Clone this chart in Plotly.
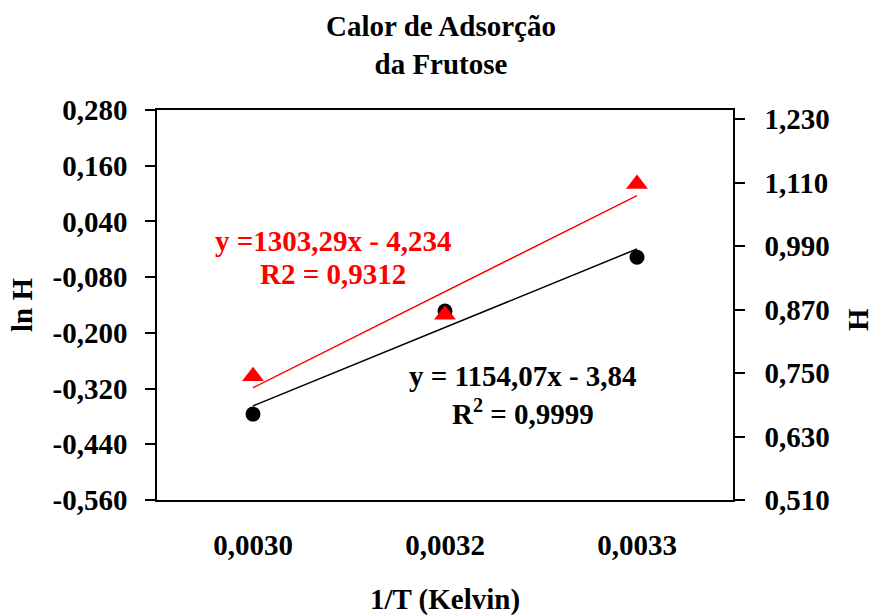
import numpy as np
import plotly.graph_objects as go

# ---- data ----
x_labels = ["0,0030", "0,0032", "0,0033"]
ln_h = [-0.375, -0.153, -0.037]          # black circles, left axis (ln H)
h_vals = [0.744, 0.860, 1.107]           # red triangles, right axis (H)
left_ticks = [-0.56, -0.44, -0.32, -0.20, -0.08, 0.04, 0.16, 0.28]
right_ticks = [0.51, 0.63, 0.75, 0.87, 0.99, 1.11, 1.23]
title_text = "Calor de Adsorção<br>da Frutose"
eq_black = ["y = 1154,07x - 3,84", "R<sup>2</sup> = 0,9999"]
eq_red = ["y =1303,29x - 4,234", "R2 = 0,9312"]


def fmt(v):
    return f"{v:.3f}".replace(".", ",")


left_text = [fmt(v) for v in left_ticks]
right_text = [fmt(v) for v in right_ticks]

idx = np.arange(len(x_labels))
bounds = np.arange(len(x_labels) + 1) - 0.5

# linear trendlines over category index (as the spreadsheet does)
kb = np.polyfit(idx, ln_h, 1)
kr = np.polyfit(idx, h_vals, 1)
tx = np.array([idx[0], idx[-1]])

FONT = "Liberation Serif"
FS = 29

fig = go.Figure()
fig.add_trace(go.Scatter(x=tx, y=np.polyval(kb, tx), mode="lines",
                         line=dict(color="black", width=1.5), yaxis="y",
                         showlegend=False, hoverinfo="skip"))
fig.add_trace(go.Scatter(x=idx, y=ln_h, mode="markers",
                         marker=dict(symbol="circle", size=15, color="black"),
                         yaxis="y", showlegend=False))
fig.add_trace(go.Scatter(x=tx, y=np.polyval(kr, tx), mode="lines",
                         line=dict(color="#ff0000", width=1.5), yaxis="y2",
                         showlegend=False, hoverinfo="skip"))
fig.add_trace(go.Scatter(x=idx, y=h_vals, mode="markers",
                         marker=dict(symbol="triangle-up", size=19, color="#ff0000"),
                         yaxis="y2", showlegend=False))

xr = [bounds[0], bounds[-1]]
yl = [left_ticks[0], left_ticks[-1]]
yr = [right_ticks[0], right_ticks[-1] + 0.017]

tfont = dict(family=FONT, size=FS, color="black", weight="bold")
axis_common = dict(showgrid=False, zeroline=False, color="black",
                   automargin=False, tickfont=tfont)
tick_only = dict(showticklabels=False, showline=False, showgrid=False,
                 zeroline=False, tickwidth=1.5, tickcolor="black", ticklen=10,
                 automargin=False, tickmode="array")

fig.update_layout(
    width=873, height=616,
    margin=dict(l=157, r=140, t=110, b=116, autoexpand=False),
    paper_bgcolor="white", plot_bgcolor="white",
    font=tfont,
    title=dict(text=title_text, x=441 / 873, xanchor="center", xref="container",
               y=1 - 36 / 616, yanchor="middle", yref="container", font=tfont),
    xaxis=dict(range=xr, tickmode="array", tickvals=idx, ticktext=x_labels,
               ticks="", showline=True, linecolor="black", linewidth=1.5,
               mirror=True, ticklabelstandoff=18,
               title=dict(text="1/T (Kelvin)", standoff=32, font=tfont),
               **axis_common),
    xaxis2=dict(range=xr, overlaying="x", anchor="y", side="bottom",
                tickvals=bounds, ticks="outside", **tick_only),
    xaxis3=dict(range=xr, overlaying="x", anchor="y", side="bottom",
                tickvals=bounds, ticks="inside", **tick_only),
    yaxis=dict(range=yl, tickmode="array", tickvals=left_ticks, ticktext=left_text,
               ticks="outside", ticklen=10, tickwidth=1.5, tickcolor="black",
               showline=True, linecolor="black", linewidth=1.5,
               ticklabelstandoff=12,
               title=dict(text="ln H", standoff=11, font=tfont),
               **axis_common),
    yaxis3=dict(range=yl, overlaying="y", anchor="x", side="left",
                tickvals=left_ticks, ticks="inside", **tick_only),
    yaxis2=dict(range=yr, overlaying="y", anchor="x", side="right",
                tickmode="array", tickvals=right_ticks, ticktext=right_text,
                ticks="outside", ticklen=10, tickwidth=1.5, tickcolor="black",
                showline=True, linecolor="black", linewidth=1.5,
                ticklabelstandoff=14,
                **axis_common),
    yaxis4=dict(range=yr, overlaying="y", anchor="x", side="right",
                tickvals=right_ticks, ticks="inside", **tick_only),
)

# right axis title placed as rotated text
fig.add_annotation(text="H", x=(858 - 157) / 576, y=(500 - 320) / 390,
                   xref="paper", yref="paper", showarrow=False, textangle=-90,
                   xanchor="center", yanchor="middle", font=tfont)

ann_font_r = dict(family=FONT, size=FS, color="#ff0000", weight="bold")
ann_font_b = dict(family=FONT, size=FS, color="black", weight="bold")
for txt, yy in zip(eq_red, [0.664, 0.58]):
    fig.add_annotation(text=txt, x=0.3056, y=yy, xref="paper", yref="paper",
                       showarrow=False, xanchor="center", yanchor="middle",
                       font=ann_font_r)
for txt, yy in zip(eq_black, [0.318, 0.226]):
    fig.add_annotation(text=txt, x=0.635, y=yy, xref="paper", yref="paper",
                       showarrow=False, xanchor="center", yanchor="middle",
                       font=ann_font_b)

fig.write_html("out.html")
